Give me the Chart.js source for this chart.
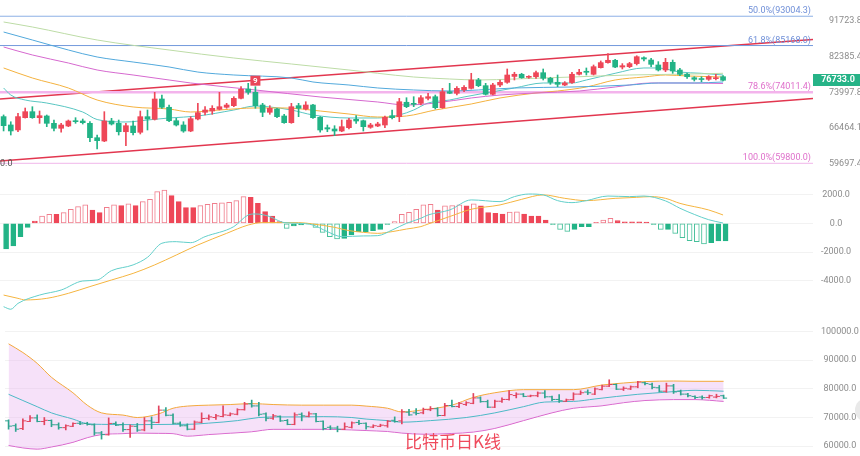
<!DOCTYPE html>
<html>
<head>
<meta charset="utf-8">
<title>比特币日K线</title>
<script src="https://cdn.jsdelivr.net/npm/chart.js@4.4.1/dist/chart.umd.min.js"></script>
<style>
  html, body { margin: 0; padding: 0; background: #fff; }
  #wrap { position: relative; width: 860px; height: 456px; overflow: hidden; }
  #wrap canvas { position: absolute; left: 0; }
  #caption { position: absolute; left: 405px; top: 432px; font: 17px/18px "Noto Sans CJK SC", sans-serif; color: #ef4a5c; white-space: nowrap; }
  #knob { position: absolute; left: 855px; top: 398px; width: 24px; height: 24px; border-radius: 50%; background: #e9e9e9; }
</style>
</head>
<body>
<div id="wrap">
  <canvas id="kline" width="860" height="172" style="top:0"></canvas>
  <canvas id="macd" width="860" height="143" style="top:172px"></canvas>
  <canvas id="boll" width="860" height="141" style="top:315px"></canvas>
  <div id="caption">比特币日K线</div>
  <div id="knob"></div>
</div>
<script>
// 101 daily candles, plus empty slots on the right like the trading app leaves
const SLOTS = 113;
const days = Array.from({length: SLOTS}, (_, i) => 'D' + (i + 1));

const opens = [68800,67100,66100,68580,69830,68580,68930,67430,66430,66890,
  67960,67900,67430,64580,63940,67900,67430,65750,66890,65640,
  68790,68250,72540,70760,67960,67090,65890,68310,69700,69970,
  70330,70760,71100,72690,74750,74010,71240,69700,70390,68930,
  67560,71100,70390,71240,68660,66550,66290,65890,66550,68250,
  67960,66630,66890,67090,68990,68790,71830,71600,71600,72690,
  73040,70670,74150,73790,74530,74900,76800,75500,73570,75650,
  76270,77630,78130,77420,77560,78500,77190,76270,75650,76200,
  78130,78840,78130,79700,80910,81480,79850,79930,80670,82110,
  81550,80340,79140,80990,79140,78130,77330,77100,76960,77100,
  77560];
const highs = [69150,67750,69500,70600,70880,69970,69135,68100,67430,68100,
  68580,68310,67760,65100,69830,68450,68100,67430,67900,69970,
  70180,74010,73410,71240,68450,67760,68790,71600,70880,71100,
  74010,71600,73040,75270,76040,75270,71600,71100,70540,69280,
  71600,71600,71950,71390,68790,67090,66950,68100,68450,68990,
  68100,67430,67640,68930,70180,72690,72820,73040,73260,73790,
  73410,74900,76040,75270,75500,78360,77190,76040,76040,76800,
  79380,78600,78360,77800,78900,79380,77430,77960,76420,78600,
  79300,79620,80340,81320,83130,81700,80670,80990,82600,82360,
  81950,81150,81960,81550,79540,78360,77560,77560,77800,78100,
  77800];
const lows = [65900,65100,65750,68500,68450,67430,66750,65890,65640,66750,
  67430,67290,63810,62430,63810,67090,65100,63050,65100,65300,
  66090,68100,70540,67760,66890,65640,65750,68100,69135,69280,
  70180,70540,70880,72540,73570,70540,68790,69280,68580,67430,
  67430,68790,70180,68450,65640,65750,64970,65750,66290,67430,
  65890,66430,66750,66550,68310,67760,70670,70880,71240,72320,
  70390,70540,73700,73410,74150,74750,75270,73410,73410,75270,
  76040,76800,77190,77190,77190,76800,75810,75270,75500,76040,
  77960,77960,77960,79600,80750,79700,79380,79700,80340,81350,
  79930,78900,78750,78360,77800,77190,76560,76400,76700,76800,
  76600];
const closes = [66950,65900,68800,69830,68580,68990,67430,66430,67090,67900,
  67760,67560,64580,64000,67900,67290,65750,66950,65560,68790,
  68310,72540,70760,67960,67090,65890,68370,69620,70180,70540,
  70880,71240,72690,74680,74010,71100,69700,70540,68790,67560,
  70880,70540,71240,68580,66090,66290,65890,66750,68100,67900,
  66750,67090,67290,68660,68580,71950,70880,71390,72820,73040,
  70670,74150,73790,74900,75120,76800,75500,73570,75650,76270,
  77960,78130,77330,77560,78500,77190,76270,75810,76120,78130,
  78600,78600,79930,80910,81480,79850,80170,80670,82360,81800,
  80500,79140,80990,78900,78130,77560,76960,76900,77560,77330,
  76733];

// moving averages on the price panel, [day index, price]
const maTeal = [[0,74980],[1,73410],[3,72320],[6,71670],[11,69760],[13,68200],[17,67700],[20,68100],[23,68520],[27,68930],[32,70180],[35,71030],[37,70820],[40,70180],[43,69140],[48,68520],[52,68520],[55,69140],[57,70180],[59,71670],[62,72320],[64,72980],[67,73860],[71,74980],[75,76110],[79,76110],[81,76800],[85,78360],[89,79620],[91,79620],[94,78650],[97,78360],[100,77960]];
const maOrange = [[0,79620],[4,77260],[9,74980],[13,72320],[18,70820],[23,70390],[26,69760],[30,70180],[35,70610],[39,70610],[44,69970],[48,69340],[52,68720],[56,68930],[60,70180],[65,71460],[69,72760],[74,73860],[77,74300],[81,75200],[85,76800],[89,77490],[92,77960],[95,77730],[100,77490]];
const maMagenta = [[0,84800],[4,82790],[9,80820],[13,79140],[18,77960],[23,76800],[26,76110],[35,74530],[44,72980],[52,71890],[56,71240],[60,71670],[65,72760],[69,73410],[74,73860],[80,74300],[85,75200],[90,76110],[95,76110],[100,76000]];
const maBlue = [[0,88700],[4,86600],[9,84040],[13,82290],[18,81060],[23,79860],[27,78650],[32,77960],[40,77260],[43,76340],[48,75650],[52,74980],[57,74530],[62,74300],[66,74530],[71,74980],[79,75200],[87,75650],[91,76110],[96,76110],[100,76340]];
const maGreen = [[0,91410],[4,90050],[13,86600],[23,84040],[32,82040],[40,80580],[48,79140],[52,78360],[57,77490],[62,77030],[66,76800],[71,77030],[79,77490],[87,77960],[96,78200],[100,78360]];

// fibonacci retracement levels and the channel
const fibNames = ['50.0%', '61.8%', '78.6%', '100.0%'];
const fibLevels = [93004.3, 85168.0, 74011.4, 59800.0];
const channelUpper = [[-0.5,72540],[112.5,86730]];
const channelLower = [[-0.5,60210],[112.5,72650]];
const tdIndex = 35, tdCount = 9;
const priceTicks = [91723.8, 82385.4, 73997.8, 66464.1, 59697.4];

// MACD
const macdHist = [-1790,-1580,-930,-280,160,510,630,620,740,976,
  1160,1280,930,740,1115,1280,1230,1350,1230,1510,
  1670,2210,2320,1930,1510,1090,1090,1230,1320,1390,
  1420,1460,1580,1860,1810,1390,810,510,115,-350,
  -185,-115,-50,-280,-630,-930,-1090,-1045,-815,-580,
  -580,-510,-420,-70,115,630,770,976,1280,1320,
  930,1210,1230,1280,1210,1350,1210,740,700,650,
  790,800,650,510,510,230,-70,-420,-560,-420,
  -230,-230,50,230,350,185,110,100,95,90,
  -70,-420,-420,-700,-1000,-1210,-1280,-1440,-1350,-1230,
  -1230];
const difLine = [[0,-5810],[1,-5990],[2,-5580],[5,-5000],[8,-4650],[11,-4020],[13,-3950],[15,-3300],[18,-2900],[20,-2370],[22,-1390],[24,-1280],[26,-1350],[28,-930],[32,-230],[34,580],[35,650],[37,470],[38,230],[39,50],[41,0],[43,-120],[45,-580],[47,-930],[50,-880],[52,-860],[54,-470],[56,0],[58,350],[59,580],[62,930],[65,1630],[69,1510],[71,1860],[73,2040],[75,1980],[77,1580],[79,1440],[81,1580],[84,1900],[87,1860],[89,1900],[92,1560],[94,1050],[96,620],[98,250],[100,20]];
const deaLine = [[0,-5000],[2,-5230],[3,-5340],[6,-5230],[9,-4880],[12,-4410],[15,-3950],[18,-3490],[21,-2900],[24,-2210],[27,-1510],[31,-700],[34,-120],[36,50],[38,50],[41,50],[43,-50],[46,-280],[48,-510],[50,-630],[52,-700],[54,-580],[56,-400],[58,-230],[59,-50],[62,470],[65,980],[69,1280],[72,1670],[75,1980],[78,1740],[81,1580],[85,1740],[88,1810],[90,1860],[92,1740],[94,1390],[98,930],[100,580]];
const macdTicks = [2000, 0, -2000, -4000];

// bollinger bands
const bollUpper = [[0,95670],[2,92640],[4,88860],[6,84000],[9,78600],[11,74280],[13,71580],[16,70820],[18,69960],[21,71250],[23,73200],[25,73950],[28,74280],[31,74490],[34,74820],[37,74490],[41,74280],[44,74280],[48,74280],[50,73950],[53,73200],[55,71900],[58,72660],[62,74280],[65,76980],[68,78600],[72,79680],[76,79680],[79,79680],[83,81300],[86,82000],[89,82500],[93,82700],[96,82600],[100,82600]];
const bollLower = [[0,60230],[2,59370],[4,58940],[6,59690],[9,61310],[11,62930],[13,64020],[16,64340],[18,64550],[21,64450],[23,64340],[25,63470],[28,64020],[31,64500],[34,65000],[37,65850],[41,65850],[44,65850],[48,65640],[50,65420],[53,65090],[55,64550],[58,64150],[62,64400],[65,64900],[68,66170],[72,68880],[76,71600],[79,73200],[83,74060],[86,75140],[89,75900],[93,76220],[96,76220],[100,75600]];
const bollMid = [[0,78060],[2,75900],[4,73740],[6,71580],[9,69420],[11,67800],[13,67580],[18,67470],[23,67580],[25,67580],[28,68010],[32,68880],[35,69960],[38,70170],[41,70170],[44,70280],[48,69960],[50,69420],[53,68880],[55,68340],[59,68880],[64,69960],[68,71580],[72,73740],[75,75360],[79,75580],[82,76440],[85,77300],[88,78060],[92,78810],[96,79460],[100,79140]];
const bollTicks = [100000, 90000, 80000, 70000, 60000];

const RED = '#ee4758', GREEN = '#22b386';
const candleColors = closes.map((c, i) => (c >= opens[i] ? RED : GREEN));
const ohlcColors = closes.map((c, i) => (c >= opens[i] ? '#e2445f' : '#2fa48f'));

function lineSet(list, color, width, extra) {
  return Object.assign({
    type: 'line', xAxisID: 'xl',
    data: list.map(([x, y]) => ({x, y})),
    borderColor: color, borderWidth: width || 1,
    pointRadius: 0, cubicInterpolationMode: 'monotone', fill: false, order: 2
  }, extra || {});
}
const straight = {tension: 0, cubicInterpolationMode: 'default', order: 3};

function yAxis(extra, tickValues) {
  return Object.assign({
    position: 'right',
    bounds: 'data',
    afterBuildTicks: a => { a.ticks = tickValues.map(v => ({value: v})); },
    afterFit: a => { a.width = 47; a.paddingTop = 0; a.paddingBottom = 0; },
    border: {display: false},
    grid: {color: '#f2f2f2', drawTicks: false},
    ticks: {color: '#8c8c8c', font: {family: 'Roboto', size: 9}, padding: 8,
      crossAlign: 'center', autoSkip: false, callback: v => Number(v).toFixed(1)}
  }, extra);
}

function options(y) {
  return {
    responsive: false, animation: false, devicePixelRatio: 1, events: [],
    layout: {padding: 0},
    plugins: {legend: {display: false}, tooltip: {enabled: false}},
    scales: {
      x: {type: 'category', offset: true, display: false},
      xl: {type: 'linear', min: -0.5, max: SLOTS - 0.5, bounds: 'data', offset: false,
        grid: {offset: false}, display: false},
      y: y
    }
  };
}

const fibLineColors = ['#8db0e6', '#7399dc', '#f3b4ec', '#f0b6ea'];
const fibTextColors = ['#6f8fd8', '#6f8fd8', '#df6fcb', '#df6fcb'];
const fibWidths = [1, 1, 2.5, 1];

const klineMarks = {
  id: 'klineMarks',
  afterDatasetsDraw(chart) {
    const {ctx, chartArea: area, scales: {x, y}} = chart;
    ctx.save();
    ctx.font = '9px Roboto';
    ctx.textAlign = 'right';
    ctx.textBaseline = 'alphabetic';
    fibLevels.forEach((v, i) => {
      ctx.fillStyle = fibTextColors[i];
      ctx.fillText(fibNames[i] + '(' + v.toFixed(1) + ')', area.right - 2, y.getPixelForValue(v) - 3);
    });
    ctx.textAlign = 'left';
    ctx.textBaseline = 'middle';
    ctx.fillStyle = '#555';
    ctx.fillText('0.0', 0, y.getPixelForValue(fibLevels[3]));

    // TD sequential count above its candle
    const mx = x.getPixelForValue(tdIndex);
    const my = y.getPixelForValue(highs[tdIndex]);
    ctx.fillStyle = '#e9475a';
    ctx.fillRect(mx - 5, my - 11, 10, 10);
    ctx.fillStyle = '#fff';
    ctx.font = 'bold 8px Roboto';
    ctx.textAlign = 'center';
    ctx.fillText(String(tdCount), mx, my - 6);
    ctx.restore();
  },
  afterDraw(chart) {
    const {ctx, chartArea: area, scales: {y}} = chart;
    const last = closes[closes.length - 1];
    const yp = Math.round(y.getPixelForValue(last));
    ctx.save();
    ctx.fillStyle = '#26b387';
    ctx.fillRect(area.right, yp - 6, 47, 12);
    ctx.fillStyle = '#fff';
    ctx.font = 'bold 9px Roboto';
    ctx.textAlign = 'center';
    ctx.textBaseline = 'middle';
    ctx.fillText(last.toFixed(1), area.right + 25, yp);
    ctx.restore();
  }
};

new Chart(document.getElementById('kline'), {
  type: 'bar',
  data: {
    labels: days,
    datasets: [
      {type: 'bar', data: opens.map((o, i) => [o, closes[i]]), backgroundColor: candleColors,
        barThickness: 5, minBarLength: 1, grouped: false, order: 0},
      {type: 'bar', data: lows.map((l, i) => [l, highs[i]]), backgroundColor: candleColors,
        barThickness: 1, grouped: false, order: 1},
      lineSet(maGreen, '#bddca6'),
      lineSet(maBlue, '#52a9dc'),
      lineSet(maMagenta, '#d669cf'),
      lineSet(maOrange, '#f4b23f'),
      lineSet(maTeal, '#59c6c2'),
      ...fibLevels.map((v, i) => lineSet([[-0.5, v], [SLOTS - 0.5, v]], fibLineColors[i], fibWidths[i], straight)),
      lineSet(channelUpper, '#e2364f', 1.3, straight),
      lineSet(channelLower, '#e2364f', 1.3, straight)
    ]
  },
  options: options(yAxis({type: 'logarithmic', min: 58258, max: 97653, grid: {display: false}}, priceTicks)),
  plugins: [klineMarks]
});

// growing histogram bars are drawn hollow, shrinking ones filled
const histHollow = macdHist.map((v, i) => i > 0 && Math.abs(v) > Math.abs(macdHist[i - 1]));
new Chart(document.getElementById('macd'), {
  type: 'bar',
  data: {
    labels: days,
    datasets: [
      lineSet(difLine, '#62cfca', 1, {order: 0}),
      lineSet(deaLine, '#f5b540', 1, {order: 0}),
      {type: 'bar', data: macdHist, barThickness: 5, borderWidth: 1, borderSkipped: false, order: 1,
        backgroundColor: macdHist.map((v, i) => histHollow[i] ? '#ffffff' : (v >= 0 ? RED : GREEN)),
        borderColor: macdHist.map((v, i) => v >= 0 ? (histHollow[i] ? '#f07d8c' : RED) : (histHollow[i] ? '#46c09a' : GREEN))}
    ]
  },
  options: options(yAxis({type: 'linear', min: -6390, max: 3575}, macdTicks))
});

new Chart(document.getElementById('boll'), {
  type: 'bar',
  data: {
    labels: days,
    datasets: [
      lineSet(bollUpper, '#f3a93c', 1, {fill: '+1', backgroundColor: 'rgba(232,180,240,0.4)', order: 5}),
      lineSet(bollLower, '#d65ac6', 1, {order: 5}),
      lineSet(bollMid, '#4cb9c6', 1, {order: 4}),
      {type: 'bar', data: lows.map((l, i) => [l, highs[i]]), backgroundColor: ohlcColors,
        barThickness: 1, grouped: false, order: 1},
      {type: 'line', data: opens, showLine: false, pointStyle: 'dash', pointRotation: 180, pointRadius: 3.5,
        pointBorderWidth: 1, pointBorderColor: ohlcColors, pointBackgroundColor: ohlcColors, order: 0},
      {type: 'line', data: closes, showLine: false, pointStyle: 'dash', pointRotation: 0, pointRadius: 3.5,
        pointBorderWidth: 1, pointBorderColor: ohlcColors, pointBackgroundColor: ohlcColors, order: 0}
    ]
  },
  options: options(yAxis({type: 'linear', min: 58282, max: 103987}, bollTicks))
});
</script>
</body>
</html>
